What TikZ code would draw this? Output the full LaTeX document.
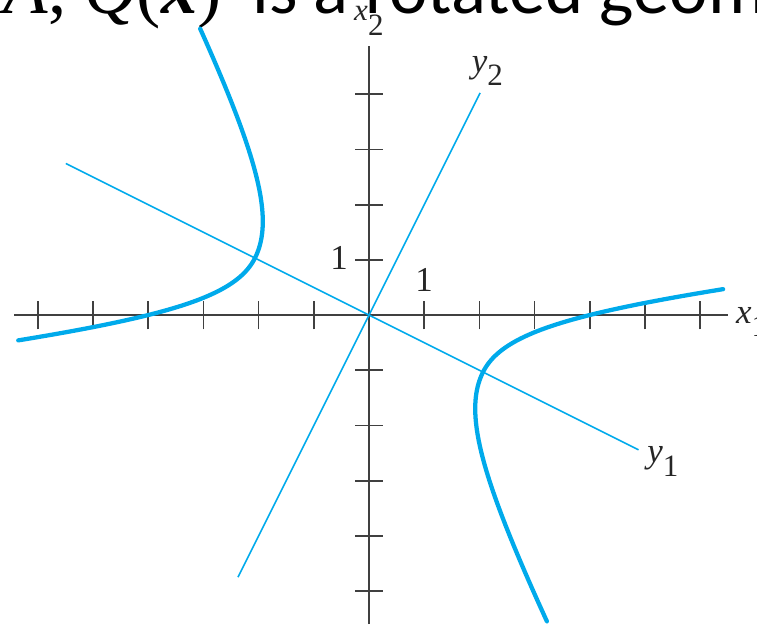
\documentclass[tikz,border=0pt]{standalone}
\usepackage{fontspec}
\newfontfamily\headfont{Carlito}
\newfontfamily\seriffont{Liberation Serif}
\usetikzlibrary{positioning}

\definecolor{curvecyan}{RGB}{0,170,235}
\definecolor{axisgray}{RGB}{64,64,64}
\newcommand{\lowidx}[2][7pt]{\raisebox{-#1}{\upshape\fontsize{16}{16}\selectfont #2}}

\begin{document}
\begin{tikzpicture}[
    axis/.style={draw=axisgray, line width=0.9pt},
    tickmark/.style={draw=axisgray, line width=0.9pt},
    rotaxis/.style={draw=curvecyan, line width=0.8pt},
    branch/.style={draw=curvecyan, line width=2.2pt, line cap=round},
    lbl/.style={font=\seriffont\fontsize{18}{18}\selectfont, text=black!85, inner sep=1pt},
    head/.style={font=\headfont\fontsize{37.5}{40}\selectfont, inner sep=0pt},
  ]
  \useasboundingbox (-6.685,-5.652) rectangle (7.029,5.707);

  % Heading line (cut at the top)
  \node[head, anchor=base east] (headmath) at (-2.66,5.471)
    {\seriffont{\itshape A}, {\itshape Q}({\bfseries\itshape x})};
  \node[head, anchor=base west] (headtext) at (-2.12,5.471) {is a rotated geom};

  % Axes
  \coordinate (xl) at (-6.43,0);
  \coordinate (xr) at (6.50,0);
  \coordinate (yb) at (0,-5.60);
  \coordinate (yt) at (0,4.87);
  \draw[axis] (xl) -- (xr);
  \draw[axis] (yb) -- (yt);
  \foreach \i in {-6,...,-1,1,2,...,6}
    \draw[tickmark] (\i,-0.26) -- (\i,0.26);
  \foreach \j in {-5,...,-1,1,2,3,4}
    \draw[tickmark] (-0.25,\j) -- (0.25,\j);

  \node[lbl, anchor=base west] (x1lab) at (6.61,-0.15) {\itshape x\lowidx{1}};
  \node[lbl, anchor=base west, font=\seriffont\fontsize{16}{16}\selectfont] (x2lab) at (-0.31,5.34) {\itshape x\lowidx[8pt]{2}};
  \node[lbl] (one2) at (-0.54,1.03) {1};
  \node[lbl] (one1) at (1.0,0.63) {1};

  % Rotated axes and the two branches
  \begin{scope}[rotate=-26.565]
    \coordinate (y1a) at (-6.14,0);
    \coordinate (y1b) at (5.46,0);
    \coordinate (y2a) at (0,-5.31);
    \coordinate (y2b) at (0,4.50);
    \draw[rotaxis] (y1a) -- (y1b);
    \draw[rotaxis] (y2a) -- (y2b);

    \draw[branch] plot[domain=-1.486:1.52, samples=90, smooth, variable=\t]
      ({2.3094*cosh(\t)}, {(1.512+0.168*(\t<0))*sinh(\t)});
    \draw[branch] plot[domain=-1.42:1.51, samples=90, smooth, variable=\t]
      ({-2.3094*cosh(\t)}, {-(1.512+0.168*(\t<0))*sinh(\t)});
  \end{scope}

  \node[lbl, anchor=base west] (y1lab) at (5.0,-2.68) {\itshape y\lowidx{1}};
  \node[lbl, anchor=base west] (y2lab) at (1.82,4.4) {\itshape y\lowidx{2}};
\end{tikzpicture}
\end{document}
